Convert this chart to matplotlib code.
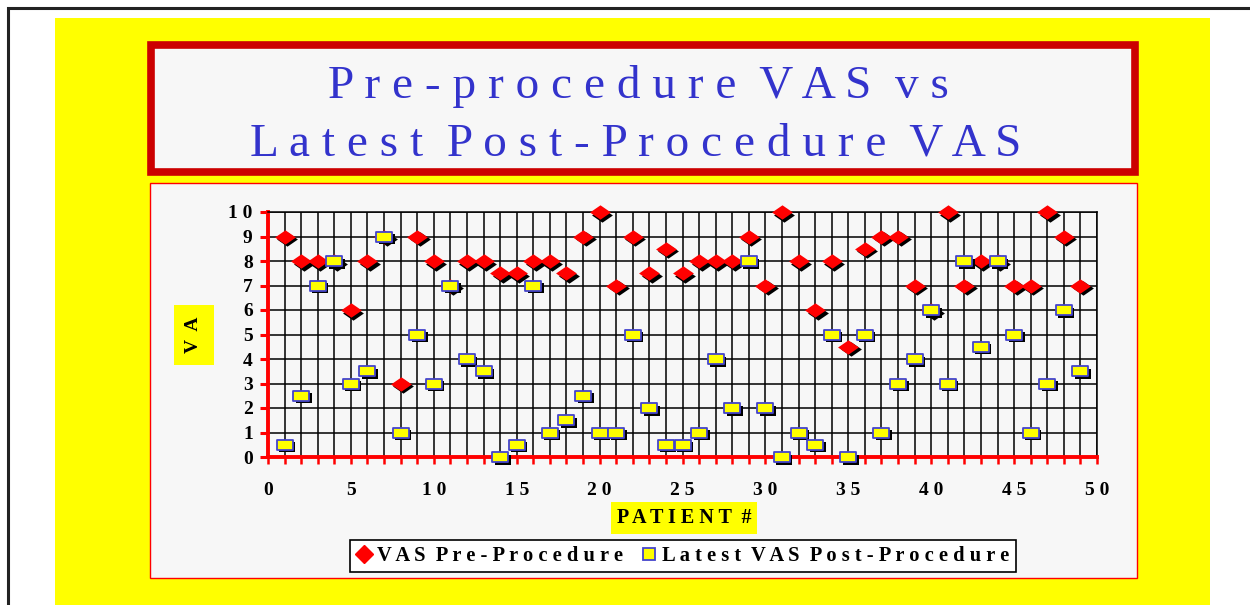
import matplotlib
matplotlib.use("Agg")
import matplotlib.pyplot as plt
from matplotlib.patches import Rectangle
from matplotlib.path import Path
from matplotlib.lines import Line2D
import matplotlib.transforms as mtransforms

# data
patients = list(range(1, 50))
vas_pre = [9, 8, 8, 8, 6, 8, 9, 3, 9, 8,
           7, 8, 8, 7.5, 7.5, 8, 8, 7.5, 9, 10,
           7, 9, 7.5, 8.5, 7.5, 8, 8, 8, 9, 7,
           10, 8, 6, 8, 4.5, 8.5, 9, 9, 7, 6,
           10, 7, 8, 8, 7, 7, 10, 9, 7]
vas_post = [0.5, 2.5, 7, 8, 3, 3.5, 9, 1, 5, 3,
            7, 4, 3.5, 0, 0.5, 7, 1, 1.5, 2.5, 1,
            1, 5, 2, 0.5, 0.5, 1, 4, 2, 8, 2,
            0, 1, 0.5, 5, 0, 5, 1, 3, 4, 6,
            3, 8, 4.5, 8, 5, 1, 3, 6, 3.5]
x_ticks = list(range(0, 51, 5))
y_ticks = list(range(0, 11))

W, H = 1250, 605
SERIF = ["Liberation Serif", "DejaVu Serif"]


def spaced(s, gap=" "):
    return "  ".join(gap.join(w) for w in s.split(" "))


def box(x0, y0, x1, y1):
    # pixel box (from top-left) -> figure fraction rect
    return [x0 / W, 1 - y1 / H, (x1 - x0) / W, (y1 - y0) / H]


fig = plt.figure(figsize=(12.5, 6.05), dpi=100)
fig.patch.set_facecolor("white")


def add_rect(x0, y0, x1, y1, fc, ec="none", lw=0, z=0):
    r = box(x0, y0, x1, y1)
    fig.patches.append(Rectangle((r[0], r[1]), r[2], r[3], transform=fig.transFigure,
                                 facecolor=fc, edgecolor=ec, linewidth=lw, zorder=z))


# outer frame, yellow slide, title box, chart box
add_rect(8, 8, 1270, 640, "white", "#222222", 2.2, 0)
add_rect(55, 18, 1210, 620, "#ffff00", z=1)
add_rect(151, 45, 1135, 172, "#f7f7f7", "#cc0000", 5.5, 2)
add_rect(150, 183, 1137, 578, "#f7f7f7", "#ff0000", 1.0, 2)

title_color = "#3333cc"
fig.text(638 / W, 1 - 87 / H, spaced("Pre-procedure VAS vs"), ha="center", va="center",
         fontsize=34, color=title_color, family=SERIF, zorder=5)
fig.text(636 / W, 1 - 144 / H, spaced("Latest Post-Procedure VAS"), ha="center", va="center",
         fontsize=34, color=title_color, family=SERIF, zorder=5)

ax = fig.add_axes(box(268, 212, 1097, 457))
ax.set_zorder(3)
ax.set_facecolor("none")
ax.set_xlim(0, 50)
ax.set_ylim(0, 10)
ax.set_xticks(x_ticks)
ax.set_xticks(range(0, 51), minor=True)
ax.set_yticks(y_ticks)
ax.set_xticklabels([spaced(str(t)) for t in x_ticks], family=SERIF, fontweight="bold", fontsize=14)
ax.set_yticklabels([spaced(str(t)) for t in y_ticks], family=SERIF, fontweight="bold", fontsize=14)
ax.grid(True, which="both", color="black", linewidth=1.1)
ax.set_axisbelow(True)
for side in ("top", "right"):
    ax.spines[side].set_color("black")
    ax.spines[side].set_linewidth(1.1)
for side in ("left", "bottom"):
    ax.spines[side].set_color("#ff0000")
    ax.spines[side].set_linewidth(2.8)
ax.tick_params(axis="y", colors="#ff0000", labelcolor="black", length=6, width=2.2,
               direction="out", pad=5)
ax.tick_params(axis="x", which="both", colors="#ff0000", labelcolor="black", length=5,
               width=1.8, direction="out", pad=13)

diamond = Path([(0, 1), (1.45, 0), (0, -1), (-1.45, 0), (0, 1)],
               [Path.MOVETO, Path.LINETO, Path.LINETO, Path.LINETO, Path.CLOSEPOLY])
rect = Path([(-1.4, -1), (1.4, -1), (1.4, 1), (-1.4, 1), (-1.4, -1)],
            [Path.MOVETO, Path.LINETO, Path.LINETO, Path.LINETO, Path.CLOSEPOLY])

shadow = mtransforms.offset_copy(ax.transData, fig=fig, x=2.5, y=-2.5, units="dots")
ax.plot(patients, vas_pre, ls="none", marker=diamond, ms=15, mfc="black", mec="black",
        mew=0, transform=shadow, clip_on=False, zorder=4)
ax.plot(patients, vas_pre, ls="none", marker=diamond, ms=15, mfc="#ff0000", mec="#ff0000",
        mew=0, clip_on=False, zorder=5)
ax.plot(patients, vas_post, ls="none", marker=rect, ms=11, mfc="black", mec="black",
        mew=0, transform=shadow, clip_on=False, zorder=6)
ax.plot(patients, vas_post, ls="none", marker=rect, ms=11, mfc="#ffff00", mec="#4444cc",
        mew=1.3, clip_on=False, zorder=7)

# axis titles in yellow boxes
fig.text(194 / W, 1 - 335 / H, "V  A", rotation=90, ha="center", va="center", fontsize=14,
         fontweight="bold", family=SERIF, zorder=5,
         bbox=dict(boxstyle="square,pad=0.6", fc="#ffff00", ec="none"))
fig.text(684 / W, 1 - 518 / H, "P A T I E N T  #", ha="center", va="center", fontsize=14.5,
         fontweight="bold", family=SERIF, zorder=5,
         bbox=dict(boxstyle="square,pad=0.3", fc="#ffff00", ec="none"))

handles = [
    Line2D([], [], ls="none", marker="D", ms=9, mfc="#ff0000", mec="#ff0000"),
    Line2D([], [], ls="none", marker="s", ms=9, mfc="#ffff00", mec="#4444cc", mew=1.3),
]
leg = fig.legend(handles, [spaced("VAS Pre-Procedure"), spaced("Latest VAS Post-Procedure")],
                 loc="center", bbox_to_anchor=(683 / W, 1 - 556 / H), ncol=2, frameon=True,
                 fancybox=False, edgecolor="black", facecolor="white", framealpha=1,
                 handlelength=0.7, handletextpad=0.3, columnspacing=0.9, borderpad=0.3,
                 prop=dict(family=SERIF, weight="bold", size=14.8))
leg.get_frame().set_linewidth(1.2)
leg.set_zorder(6)

fig.savefig("out.png", dpi=100)
